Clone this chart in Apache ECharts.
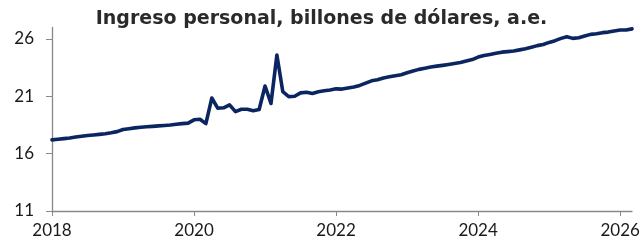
<!DOCTYPE html>
<html>
<head>
<meta charset="utf-8">
<script src="https://cdn.jsdelivr.net/npm/echarts@6/dist/echarts.min.js"></script>
<style>
html,body{margin:0;padding:0;background:#fff;}
#chart{width:643px;height:245px;}
</style>
</head>
<body>
<div id="chart"></div>
<script>
// Monthly series starting January 2018
const startYear = 2018;
const titleText = "Ingreso personal, billones de dólares, a.e.";
const yTicks = [11, 16, 21, 26];
const xTicks = [2018, 2020, 2022, 2024, 2026];
const income2018 = [17.20, 17.25, 17.31, 17.37, 17.45, 17.52, 17.58, 17.63, 17.68, 17.74, 17.82, 17.92];
const income2019 = [18.10, 18.18, 18.25, 18.30, 18.35, 18.38, 18.42, 18.46, 18.50, 18.56, 18.62, 18.66];
const income2020 = [18.95, 19.00, 18.62, 20.85, 19.97, 20.00, 20.25, 19.66, 19.87, 19.87, 19.75, 19.85];
const income2021 = [21.90, 20.38, 24.60, 21.40, 20.97, 21.00, 21.30, 21.35, 21.25, 21.40, 21.48, 21.55];
const income2022 = [21.65, 21.63, 21.72, 21.82, 21.95, 22.15, 22.35, 22.45, 22.60, 22.70, 22.80, 22.88];
const income2023 = [23.05, 23.20, 23.35, 23.45, 23.55, 23.63, 23.70, 23.78, 23.86, 23.95, 24.08, 24.20];
const income2024 = [24.42, 24.55, 24.65, 24.75, 24.85, 24.90, 24.95, 25.05, 25.15, 25.28, 25.42, 25.52];
const income2025 = [25.70, 25.85, 26.05, 26.20, 26.05, 26.10, 26.25, 26.40, 26.45, 26.55, 26.60, 26.70];
const income2026 = [26.78, 26.78, 26.88];

const values = [].concat(income2018, income2019, income2020, income2021, income2022,
  income2023, income2024, income2025, income2026);
const data = values.map((v, i) => [startYear + i / 12, v]);
const lastX = startYear + (values.length - 1) / 12;

const chart = echarts.init(document.getElementById('chart'), null, {renderer: 'canvas'});
const labelFont = {fontFamily: 'Lato', fontSize: 17, color: '#1a1a1a'};
chart.setOption({
  animation: false,
  backgroundColor: '#ffffff',
  title: {
    text: titleText,
    left: 'center',
    top: 5,
    textStyle: {fontFamily: 'DejaVu Sans', fontWeight: 'bold', fontSize: 19, color: '#2a2a2a'}
  },
  grid: {left: 52, right: 11, top: 27.5, bottom: 34, containLabel: false},
  xAxis: {
    type: 'value',
    min: startYear,
    max: lastX,
    axisLine: {show: true, lineStyle: {color: '#888888', width: 1.3}},
    axisTick: {show: true, length: 5, customValues: xTicks, lineStyle: {color: '#888888', width: 1}},
    axisLabel: Object.assign({customValues: xTicks, margin: 11, formatter: v => String(Math.round(v))}, labelFont),
    splitLine: {show: false}
  },
  yAxis: {
    type: 'value',
    min: 11,
    max: 27,
    axisLine: {show: true, lineStyle: {color: '#888888', width: 1.3}},
    axisTick: {show: true, length: 6, customValues: yTicks, lineStyle: {color: '#888888', width: 1}},
    axisLabel: Object.assign({customValues: yTicks, margin: 18}, labelFont),
    splitLine: {show: false}
  },
  series: [{
    type: 'line',
    data: data,
    showSymbol: false,
    lineStyle: {color: '#0b2560', width: 3.6, join: 'round', cap: 'round'},
    itemStyle: {color: '#0b2560'}
  }]
});
</script>
</body>
</html>
